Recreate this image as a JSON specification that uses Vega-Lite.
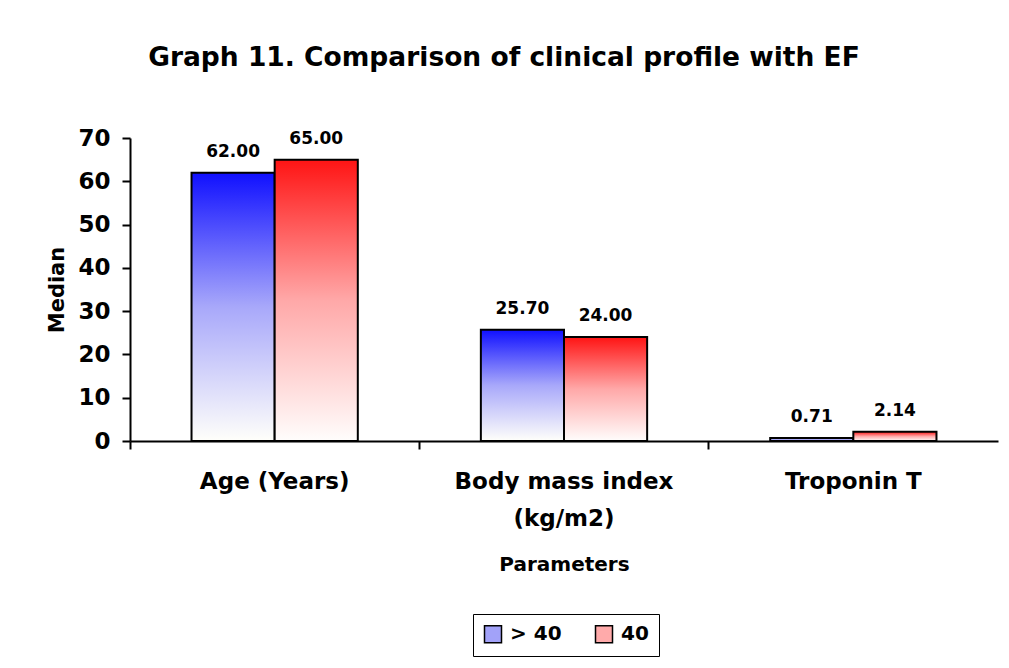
{
  "$schema": "https://vega.github.io/schema/vega-lite/v6.json",
  "autosize": {"type": "none"},
  "width": 868,
  "height": 303,
  "padding": {"left": 130, "top": 138, "right": 11, "bottom": 227},
  "background": "white",
  "config": {"view": {"stroke": null}},
  "title": {
    "text": "Graph 11. Comparison of clinical profile with EF",
    "font": "DejaVu Sans",
    "fontSize": 26.5,
    "fontWeight": "bold",
    "color": "black",
    "anchor": "middle",
    "dx": -60,
    "offset": 56
  },
  "data": {
    "values": [
      {"param": "Age (Years)", "group": "> 40", "median": 62.00},
      {"param": "Age (Years)", "group": "40", "median": 65.00},
      {"param": "Body mass index (kg/m2)", "group": "> 40", "median": 25.70},
      {"param": "Body mass index (kg/m2)", "group": "40", "median": 24.00},
      {"param": "Troponin T", "group": "> 40", "median": 0.71},
      {"param": "Troponin T", "group": "40", "median": 2.14}
    ]
  },
  "encoding": {
    "x": {
      "field": "param",
      "type": "nominal",
      "sort": null,
      "scale": {"paddingInner": 0, "paddingOuter": 0},
      "axis": {
        "title": "Parameters",
        "titleFont": "DejaVu Sans",
        "titleFontSize": 20,
        "titleFontWeight": "bold",
        "titleColor": "black",
        "titlePadding": 24,
        "labelFont": "DejaVu Sans",
        "labelFontSize": 23,
        "labelFontWeight": "bold",
        "labelColor": "black",
        "labelAngle": 0,
        "labelPadding": 21,
        "labelLineHeight": 37,
        "labelLimit": 400,
        "labelExpr": "datum.label == 'Body mass index (kg/m2)' ? ['Body mass index', '(kg/m2)'] : datum.label",
        "bandPosition": 0,
        "tickSize": 8,
        "tickWidth": 2,
        "tickColor": "black",
        "domainColor": "black",
        "domainWidth": 2,
        "grid": false
      }
    },
    "xOffset": {
      "field": "group",
      "type": "nominal",
      "sort": null,
      "scale": {"paddingInner": 0, "paddingOuter": 0.74}
    },
    "y": {
      "field": "median",
      "type": "quantitative",
      "scale": {"domain": [0, 70], "nice": false},
      "axis": {
        "title": "Median",
        "titleFont": "DejaVu Sans",
        "titleFontSize": 21,
        "titleFontWeight": "bold",
        "titleColor": "black",
        "titlePadding": 10,
        "values": [0, 10, 20, 30, 40, 50, 60, 70],
        "labelFont": "DejaVu Sans",
        "labelFontSize": 23,
        "labelFontWeight": "bold",
        "labelColor": "black",
        "labelPadding": 12,
        "tickSize": 8,
        "tickWidth": 2,
        "tickColor": "black",
        "domainColor": "black",
        "domainWidth": 2,
        "grid": false
      }
    }
  },
  "layer": [
    {
      "transform": [{"filter": "datum.group == '> 40'"}],
      "mark": {"type": "bar", "stroke": "black", "strokeWidth": 2,
        "color": {"gradient": "linear", "x1": 0, "y1": 0, "x2": 0, "y2": 1,
          "stops": [{"offset": 0, "color": "#1010ff"}, {"offset": 0.5, "color": "#a8a8fa"}, {"offset": 1, "color": "#fffffa"}]}}
    },
    {
      "transform": [{"filter": "datum.group != '> 40'"}],
      "mark": {"type": "bar", "stroke": "black", "strokeWidth": 2,
        "color": {"gradient": "linear", "x1": 0, "y1": 0, "x2": 0, "y2": 1,
          "stops": [{"offset": 0, "color": "#ff1414"}, {"offset": 0.5, "color": "#ffa8a8"}, {"offset": 1, "color": "#fffdfc"}]}}
    },
    {
      "mark": {"type": "text", "dy": -21, "font": "DejaVu Sans", "fontSize": 17, "fontWeight": "bold", "color": "black"},
      "encoding": {
        "text": {"field": "median", "type": "quantitative", "format": ".2f"}
      }
    },
    {
      "mark": {"type": "text", "fontSize": 1},
      "encoding": {
        "text": {"value": ""},
        "color": {
          "field": "group",
          "type": "nominal",
          "sort": null,
          "scale": {"range": ["#a2a2f9", "#ffaaaa"]},
          "legend": {
            "title": null,
            "orient": "none",
            "legendX": 343,
            "legendY": 476,
            "direction": "horizontal",
            "strokeColor": "black",
            "padding": 10,
            "symbolType": "square",
            "symbolSize": 289,
            "symbolStrokeColor": "black",
            "symbolStrokeWidth": 1.5,
            "symbolOpacity": 1,
            "labelFont": "DejaVu Sans",
            "labelFontSize": 20,
            "labelFontWeight": "bold",
            "labelColor": "black",
            "columnPadding": 30,
            "labelOffset": 7
          }
        }
      }
    }
  ]
}
